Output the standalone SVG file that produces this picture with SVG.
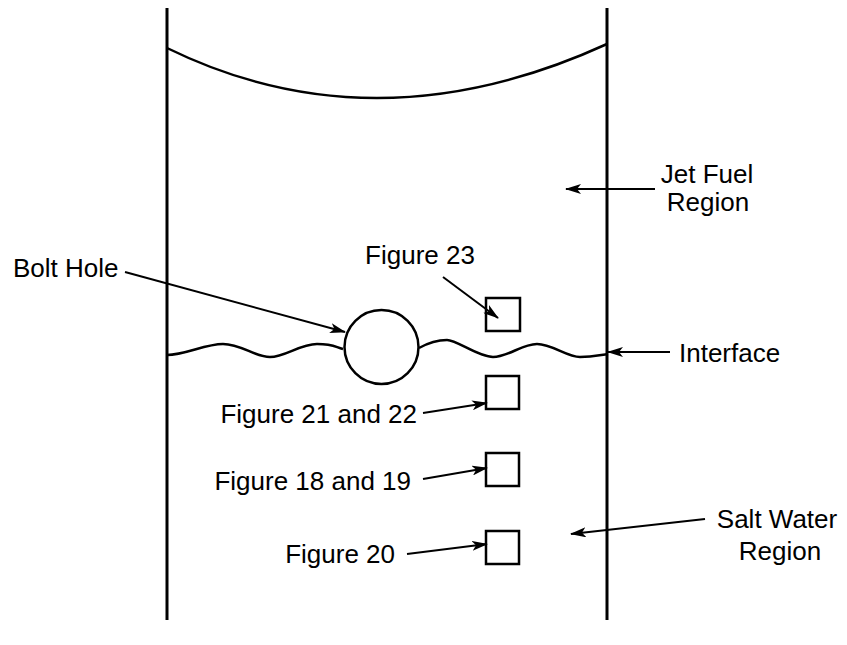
<svg xmlns="http://www.w3.org/2000/svg" width="847" height="645" viewBox="0 0 847 645">
<style>
.wall{stroke:#000;stroke-width:3;fill:none}
.line{stroke:#000;stroke-width:2.5;fill:none}
.conn{stroke:#000;stroke-width:2;fill:none;marker-end:url(#ah)}
.box{stroke:#000;stroke-width:2.5;fill:#fff}
text{font-family:"Liberation Sans",Arial,Helvetica,sans-serif;font-size:26px;fill:#000}
</style>
<defs>
<marker id="ah" viewBox="0 0 16 10" refX="15" refY="5" markerWidth="16" markerHeight="10" markerUnits="userSpaceOnUse" orient="auto">
<path d="M0,0 L16,5 L0,10 L4,5 Z" fill="#000"/>
</marker>
</defs>
<rect width="847" height="645" fill="#fff"/>
<g id="tank">
<line class="wall" x1="167" y1="8" x2="167" y2="620"/>
<line class="wall" x1="607" y1="8" x2="607" y2="620"/>
<path class="line" stroke-width="3" d="M167,48 Q375,150 607,44"/>
</g>
<g id="interface-line">
<path class="line" stroke-width="2" d="M167,355 C185,355 205,344 223,344 S255,357 270,357 S300,344 317,344 S335,347 343,349"/>
<path class="line" stroke-width="2" d="M419,348 C428,343 437,340 447,340 S478,357 493,357 S522,344 537,344 S567,357 580,357 S600,355 608,354"/>
</g>
<g id="bolt-hole"><circle class="line" cx="381.5" cy="347" r="37" stroke-width="2.2"/></g>
<g id="box-23"><rect class="box" x="486" y="298" width="34" height="33"/></g>
<g id="box-21-22"><rect class="box" x="486" y="376" width="33" height="33"/></g>
<g id="box-18-19"><rect class="box" x="486" y="453" width="33" height="33"/></g>
<g id="box-20"><rect class="box" x="486" y="531" width="33" height="33"/></g>
<g id="labels">
<text x="13" y="277">Bolt Hole</text>
<text x="420" y="264" text-anchor="middle">Figure 23</text>
<text x="417" y="423" text-anchor="end">Figure 21 and 22</text>
<text x="411" y="490" text-anchor="end">Figure 18 and 19</text>
<text x="395" y="563" text-anchor="end">Figure 20</text>
<text x="707" y="183" text-anchor="middle">Jet Fuel</text>
<text x="708" y="211" text-anchor="middle">Region</text>
<text x="679" y="362">Interface</text>
<text x="777" y="528" text-anchor="middle">Salt Water</text>
<text x="780" y="560" text-anchor="middle">Region</text>
</g>
<g id="connectors">
<line class="conn" x1="125" y1="272" x2="345" y2="332"/>
<line class="conn" x1="443" y1="277" x2="498" y2="318"/>
<line class="conn" x1="423" y1="413" x2="487" y2="403"/>
<line class="conn" x1="423" y1="479" x2="487" y2="468"/>
<line class="conn" x1="407" y1="554" x2="487" y2="544"/>
<line class="conn" x1="655" y1="189" x2="566" y2="189"/>
<line class="conn" x1="670" y1="352" x2="608" y2="352"/>
<line class="conn" x1="705" y1="519" x2="571" y2="534"/>
</g>
</svg>
